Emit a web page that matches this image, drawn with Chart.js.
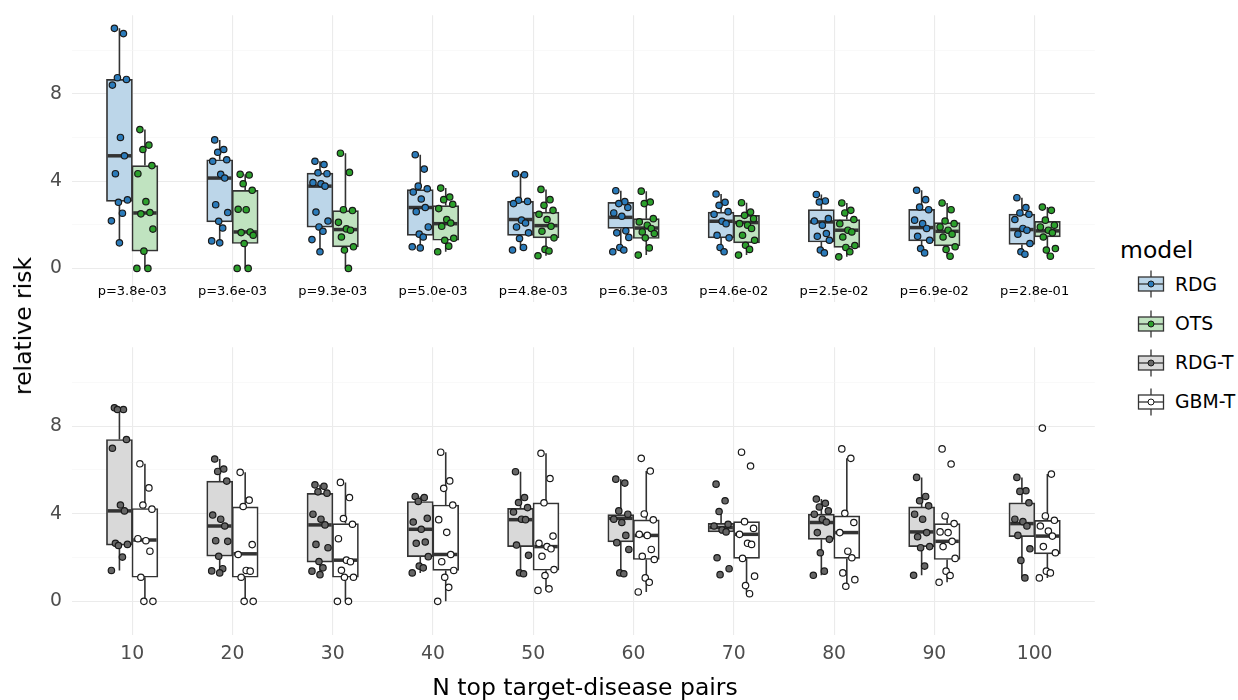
<!DOCTYPE html>
<html>
<head>
<meta charset="utf-8">
<script src="https://cdn.jsdelivr.net/npm/chart.js@4.4.0/dist/chart.umd.min.js"></script>
<style>
  body { margin: 0; width: 1238px; height: 700px; background: #fff; position: relative; overflow: hidden;
         font-family: "DejaVu Sans", sans-serif; }
  .panel { position: absolute; left: 0; width: 1100px; }
  #topWrap { top: 0; height: 303px; }
  #botWrap { top: 332px; height: 335px; }
  .ytitle { position: absolute; left: 23px; top: 326px; transform: translate(-50%, -50%) rotate(-90deg);
            font-size: 23.5px; color: #000; white-space: nowrap; }
  .xtitle { position: absolute; left: 585px; top: 687px; transform: translate(-50%, -50%);
            font-size: 23.5px; color: #000; white-space: nowrap; }
  .legend-head { position: absolute; left: 1120px; top: 250px; transform: translateY(-50%); font-size: 23.5px; }
  .key { position: absolute; left: 1137px; transform: translateY(-50%); display: flex; align-items: center; }
  .key span { font-size: 18.8px; margin-left: 10px; }
</style>
</head>
<body>
<div class="panel" id="topWrap"><canvas id="topChart"></canvas></div>
<div class="panel" id="botWrap"><canvas id="botChart"></canvas></div>
<div class="ytitle">relative risk</div>
<div class="xtitle">N top target-disease pairs</div>
<div class="legend-head">model</div>
<div id="legend"></div>

<script>
// N top pairs (x categories) and p-values of the top panel
const nTop = ['10', '20', '30', '40', '50', '60', '70', '80', '90', '100'];
const pValues = ['3.8e-03', '3.6e-03', '9.3e-03', '5.0e-03', '4.8e-03', '6.3e-03', '4.6e-02', '2.5e-02', '6.9e-02', '2.8e-01'];
const yTicks = [0, 2, 4, 6, 8, 10];

// box stats per category: [lower whisker, q1, median, q3, upper whisker]
const rdgBox = [[1.17,3.07,5.16,8.66,11.0],[1.17,2.13,4.14,4.98,5.89],[0.76,1.89,3.77,4.37,4.91],[0.94,1.51,2.79,3.61,5.21],[0.84,1.51,2.24,3.07,4.34],
                [0.76,1.83,2.34,3.03,3.56],[0.76,1.40,2.16,2.58,3.41],[0.71,1.21,2.13,2.69,3.39],[0.71,1.26,1.87,2.71,3.58],[0.65,1.10,1.78,2.49,3.24]];
const otsBox = [[0,0.79,2.54,4.71,6.36],[0,1.14,1.67,3.58,4.31],[0,0.99,1.78,2.65,5.28],[0.76,1.29,2.05,2.88,3.68],[0.58,1.40,1.96,2.58,3.62],
                [0.61,1.37,1.85,2.28,3.54],[0.61,1.17,2.10,2.43,3.01],[0.53,0.96,1.75,2.24,3.0],[0.56,1.03,1.70,2.10,3.0],[0.56,1.44,1.72,2.16,2.81]];
const rdgtBox = [[1.41,2.57,4.13,7.39,8.84],[1.30,2.06,3.44,5.49,6.50],[1.22,1.79,3.49,4.93,5.32],[1.30,2.04,3.29,4.56,4.79],[1.26,2.50,3.73,4.25,5.92],
                 [1.26,2.71,3.79,3.96,5.58],[3.10,3.17,3.37,3.56,4.10],[1.19,2.83,3.60,3.98,4.67],[1.19,2.50,3.17,4.31,5.66],[1.07,2.95,3.55,4.50,5.66]];
const gbmtBox = [[0,1.10,2.80,4.24,6.28],[0,1.10,2.17,4.31,5.89],[0,1.10,1.88,3.55,5.43],[0,1.41,2.14,4.40,6.81],[0.50,1.42,2.50,4.50,6.76],
                 [0.43,1.91,3.01,3.72,5.95],[0.35,1.96,3.06,3.64,3.64],[0.69,1.96,3.14,3.90,6.53],[0.87,1.91,2.74,3.55,3.90],[1.07,2.17,2.98,3.70,5.81]];

// individual relative-risk values (one list per category)
const rdgPts = [
  [11.0,10.76,8.74,8.66,8.4,6.0,5.16,4.34,3.14,3.03,2.53,2.18,1.17],
  [5.89,5.45,5.32,4.98,4.91,4.31,4.14,2.92,2.56,2.16,1.85,1.26,1.17],
  [4.91,4.76,4.38,4.34,3.93,3.88,3.77,2.58,2.17,1.90,1.70,1.32,0.76],
  [5.21,4.55,3.77,3.65,3.50,3.18,2.79,2.60,1.90,1.57,1.44,0.99,0.94],
  [4.34,4.29,3.12,3.07,2.97,2.21,2.08,1.90,1.63,1.37,0.96,0.84],
  [3.56,3.06,2.97,2.79,2.54,2.39,1.72,1.63,1.42,0.96,0.84,0.76],
  [3.41,3.03,2.89,2.60,2.48,2.16,2.05,1.52,1.40,0.96,0.76],
  [3.39,3.09,3.04,2.28,2.17,1.98,1.60,1.47,1.29,0.84,0.71],
  [3.58,3.15,2.81,2.69,2.21,2.05,1.83,1.47,1.29,0.91,0.71],
  [3.24,2.79,2.54,2.48,2.24,1.83,1.75,1.57,1.14,0.76,0.65]];
const otsPts = [
  [6.36,5.65,5.45,4.71,4.34,3.06,2.56,2.5,1.8,0.79,0,0],
  [4.31,4.28,3.88,3.58,2.71,2.69,1.67,1.64,1.52,1.14,0,0],
  [5.28,4.40,2.69,2.65,2.11,1.81,1.75,1.44,0.99,0.84,0],
  [3.68,3.27,3.15,2.94,2.74,2.24,2.08,1.93,1.38,1.29,1.02,0.76],
  [3.62,3.15,2.89,2.66,2.48,2.24,1.93,1.70,1.40,0.87,0.80,0.58],
  [3.54,3.04,2.97,2.28,2.13,1.98,1.83,1.67,1.60,1.40,0.94,0.61],
  [3.01,2.58,2.43,2.28,2.05,1.98,1.83,1.52,1.29,1.06,0.87,0.61],
  [3.0,2.66,2.54,2.24,2.05,1.75,1.67,1.44,1.05,0.96,0.76,0.53],
  [3.0,2.69,2.17,2.05,1.90,1.75,1.57,1.44,0.99,0.87,0.56],
  [2.81,2.66,2.21,1.98,1.90,1.75,1.63,1.44,0.91,0.84,0.56]];
const rdgtPts = [
  [8.84,8.76,8.76,7.39,6.99,4.40,4.13,2.65,2.60,2.55,2.02,1.41],
  [6.50,6.04,5.93,5.49,3.94,3.75,3.44,2.77,2.74,2.06,1.49,1.39,1.30],
  [5.32,5.25,5.0,4.94,3.98,3.75,3.49,2.60,2.45,1.82,1.53,1.38,1.22],
  [4.79,4.74,4.56,3.79,3.62,3.29,2.71,2.65,2.04,1.61,1.53,1.30],
  [5.92,4.74,4.51,4.28,4.08,3.75,3.73,2.57,2.10,1.30,1.26],
  [5.58,5.40,4.13,3.98,3.75,3.60,3.01,2.68,2.37,1.30,1.26],
  [5.35,4.59,4.10,3.52,3.44,3.26,3.17,1.99,1.49,1.22],
  [4.67,4.48,4.31,4.13,3.98,3.75,3.62,3.14,2.83,2.22,1.38,1.19],
  [5.66,4.79,4.59,4.36,3.98,3.75,3.14,2.95,2.50,2.45,1.61,1.19],
  [5.66,5.05,5.02,4.50,3.75,3.64,3.44,3.01,2.40,1.87,1.07]];
const gbmtPts = [
  [6.28,5.18,4.40,4.21,2.86,2.77,2.29,1.10,0,0],
  [5.89,4.62,4.33,2.59,2.14,1.41,1.38,1.10,0,0],
  [5.43,4.74,3.78,3.52,2.86,1.88,1.81,1.42,1.10,1.10,0,0],
  [6.81,5.50,5.16,4.40,3.73,3.15,2.14,1.81,1.41,1.10,0.64,0],
  [6.76,5.61,4.50,2.98,2.65,2.50,2.40,2.06,1.45,1.18,0.57,0.50],
  [6.53,5.95,3.99,3.72,3.06,3.01,2.37,2.06,1.91,1.07,0.87,0.43],
  [6.81,6.18,3.64,3.33,3.06,2.65,2.60,1.96,1.15,0.72,0.35],
  [6.96,6.53,4.02,3.60,3.14,2.29,1.99,1.30,0.99,0.69],
  [6.96,6.27,3.90,3.55,3.17,3.14,2.74,2.50,1.96,1.38,1.18,0.87],
  [7.91,5.81,3.90,3.70,3.44,3.21,2.98,2.50,2.22,1.38,1.30,1.07]];

const models = {
  'RDG':   { box: rdgBox,  pts: rdgPts,  fill: 'rgb(188,214,233)', dot: '#2b7bba' },
  'OTS':   { box: otsBox,  pts: otsPts,  fill: 'rgb(192,227,192)', dot: '#2ca02c' },
  'RDG-T': { box: rdgtBox, pts: rdgtPts, fill: 'rgb(217,217,217)', dot: '#666666' },
  'GBM-T': { box: gbmtBox, pts: gbmtPts, fill: '#ffffff',          dot: '#ffffff' }
};

const BOX_W = 0.254;   // box width in category units
const DODGE = 0.127;
const JIT = [-0.05, 0.04, -0.02, 0.07, -0.07, 0.01, 0.05, -0.04, 0.08, -0.01, 0.03, -0.08, 0.0, 0.06];
const EDGE = '#333333';

// whiskers + median, drawn right after each box dataset
const boxParts = {
  id: 'boxParts',
  afterDatasetDraw(chart, args) {
    const ds = chart.data.datasets[args.index];
    if (!ds.stats) return;
    const xs = chart.scales.x, ys = chart.scales.y, c = chart.ctx;
    const half = (xs.getPixelForValue(BOX_W) - xs.getPixelForValue(0)) / 2;
    c.save();
    c.strokeStyle = EDGE;
    ds.stats.forEach((s, i) => {
      const px = xs.getPixelForValue(i + 1 + ds.shift);
      c.lineWidth = 1.6;
      c.beginPath();
      c.moveTo(px, ys.getPixelForValue(s[0])); c.lineTo(px, ys.getPixelForValue(s[1]));
      c.moveTo(px, ys.getPixelForValue(s[3])); c.lineTo(px, ys.getPixelForValue(s[4]));
      c.stroke();
      c.lineWidth = 3.5;
      c.beginPath();
      c.moveTo(px - half + 1, ys.getPixelForValue(s[2])); c.lineTo(px + half - 1, ys.getPixelForValue(s[2]));
      c.stroke();
    });
    c.restore();
  }
};

// p-value annotations under each group (top panel)
const pLabels = {
  id: 'pLabels',
  afterDatasetsDraw(chart, args, opts) {
    if (!opts.show) return;
    const xs = chart.scales.x, ys = chart.scales.y, c = chart.ctx;
    c.save();
    c.font = '13px "DejaVu Sans"';
    c.fillStyle = '#000';
    c.textAlign = 'center';
    c.textBaseline = 'middle';
    pValues.forEach((p, i) => c.fillText('p=' + p, xs.getPixelForValue(i + 1), ys.getPixelForValue(-1.05)));
    c.restore();
  }
};

function buildDatasets(pair) {
  const sets = [];
  pair.forEach((name, k) => {
    const m = models[name];
    const shift = k === 0 ? -DODGE : DODGE;
    sets.push({
      type: 'bar', label: name, order: 2, shift: shift, stats: m.box,
      data: m.box.map((s, i) => ({ x: i + 1 + shift, y: [s[1], s[3]] })),
      backgroundColor: m.fill, borderColor: EDGE, borderWidth: 1.7, borderSkipped: false,
      barThickness: 26, grouped: false
    });
    const pts = [];
    m.pts.forEach((vals, i) => vals.forEach((v, j) => pts.push({ x: i + 1 + shift + JIT[j % JIT.length], y: v })));
    sets.push({
      type: 'scatter', label: name + ' pts', order: 0, data: pts,
      pointRadius: 3.2, pointBackgroundColor: m.dot, pointBorderColor: '#1a1a1a', pointBorderWidth: 1.2
    });
  });
  return sets;
}

function makeChart(id, pair, showX) {
  return new Chart(document.getElementById(id), {
    type: 'bar',
    data: { datasets: buildDatasets(pair) },
    plugins: [boxParts, pLabels],
    options: {
      responsive: true, maintainAspectRatio: false, animation: false,
      layout: { padding: { top: 15, right: 3, left: 0, bottom: 0 } },
      plugins: { legend: { display: false }, tooltip: { enabled: false }, pLabels: { show: !showX } },
      scales: {
        x: {
          type: 'linear', min: 0.4, max: 10.6, offset: false,
          afterBuildTicks: s => { s.ticks = nTop.map((_, i) => ({ value: i + 1 })); },
          afterFit: s => { s.height = showX ? 40 : 1; },
          grid: { color: '#ebebeb', lineWidth: 1.1, drawTicks: false, offset: false },
          border: { display: false },
          ticks: {
            display: showX, padding: 8, color: '#4d4d4d', font: { family: 'DejaVu Sans', size: 18.8 },
            callback: v => nTop[v - 1]
          }
        },
        y: {
          min: -1.55, max: 11.6,
          afterBuildTicks: s => { s.ticks = yTicks.map(v => ({ value: v })); },
          afterFit: s => { s.width = 72; },
          grid: {
            drawTicks: false,
            color: c => (c.tick && c.tick.value % 4 === 0) ? '#ebebeb' : '#f5f5f5',
            lineWidth: c => (c.tick && c.tick.value % 4 === 0) ? 1.1 : 0.6
          },
          border: { display: false },
          ticks: {
            padding: 10, color: '#4d4d4d', font: { family: 'DejaVu Sans', size: 18.8 },
            callback: v => (v % 4 === 0 ? String(v) : '')
          }
        }
      }
    }
  });
}

// move/resize the wrapper so that the plot area lands on the wanted rows
function fitArea(chart, wrap, top, bottom) {
  const a = chart.chartArea;
  const gapTop = a.top, gapBottom = chart.height - a.bottom;
  wrap.style.top = (top - gapTop) + 'px';
  wrap.style.height = (bottom - top + gapTop + gapBottom) + 'px';
  chart.resize();
}

const topChart = makeChart('topChart', ['RDG', 'OTS'], false);
const botChart = makeChart('botChart', ['RDG-T', 'GBM-T'], true);
fitArea(topChart, document.getElementById('topWrap'), 15, 302);
fitArea(botChart, document.getElementById('botWrap'), 347, 635);

// legend keys
const legend = document.getElementById('legend');
const keyRows = [284, 323.5, 362.5, 401.5];
Object.keys(models).forEach((name, i) => {
  const m = models[name];
  const row = document.createElement('div');
  row.className = 'key';
  row.style.top = keyRows[i] + 'px';
  row.innerHTML =
    '<svg width="28" height="30" viewBox="0 0 28 30">' +
    '<line x1="14" y1="1.5" x2="14" y2="28.5" stroke="' + EDGE + '" stroke-width="1.3"/>' +
    '<rect x="1.5" y="8" width="25" height="14" fill="' + m.fill + '" stroke="' + EDGE + '" stroke-width="1.3"/>' +
    '<line x1="1.5" y1="15" x2="26.5" y2="15" stroke="' + EDGE + '" stroke-width="1.3"/>' +
    '<circle cx="14" cy="15" r="3" fill="' + m.dot + '" stroke="#1a1a1a" stroke-width="1"/>' +
    '</svg><span>' + name + '</span>';
  legend.appendChild(row);
});
</script>
</body>
</html>
